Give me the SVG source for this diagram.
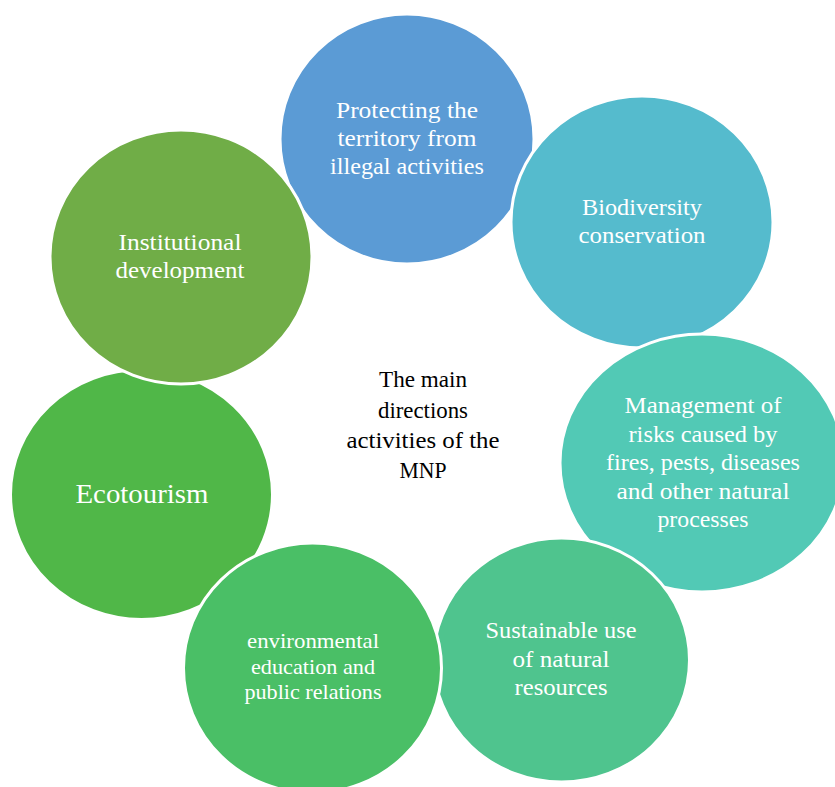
<svg xmlns="http://www.w3.org/2000/svg" width="835" height="787" viewBox="0 0 835 787">
<style>
.c{stroke:#ffffff;stroke-width:3}
.t{font-family:"Liberation Serif","DejaVu Serif",serif;fill:#ffffff;text-anchor:middle;font-size:23px}
.s{font-size:21px}
.m{font-family:"Liberation Serif","DejaVu Serif",serif;fill:#000000;text-anchor:middle;font-size:23px}
</style>
<rect width="835" height="787" fill="#ffffff"/>
<g id="connectors"/>
<g id="ecotourism">
<ellipse class="c" cx="141.5" cy="494.5" rx="131" ry="125" fill="#50B748"/>
<text class="t" x="142" y="503" style="font-size:28px" textLength="133" lengthAdjust="spacingAndGlyphs">Ecotourism</text>
</g>
<g id="protecting">
<ellipse class="c" cx="407" cy="139" rx="127" ry="125" fill="#5B9BD5"/>
<text class="t" x="407" y="118" textLength="142" lengthAdjust="spacingAndGlyphs">Protecting the</text>
<text class="t" x="407" y="146" textLength="139" lengthAdjust="spacingAndGlyphs">territory from</text>
<text class="t" x="407" y="174" textLength="154" lengthAdjust="spacingAndGlyphs">illegal activities</text>
</g>
<g id="biodiversity">
<ellipse class="c" cx="642" cy="222" rx="131" ry="126" fill="#55BBCD"/>
<text class="t" x="642" y="215" textLength="120" lengthAdjust="spacingAndGlyphs">Biodiversity</text>
<text class="t" x="642" y="243" textLength="127" lengthAdjust="spacingAndGlyphs">conservation</text>
</g>
<g id="management">
<ellipse class="c" cx="702" cy="463" rx="142" ry="129" fill="#52C9B5"/>
<text class="t" x="703" y="413" textLength="157" lengthAdjust="spacingAndGlyphs">Management of</text>
<text class="t" x="703" y="441.5" textLength="149" lengthAdjust="spacingAndGlyphs">risks caused by</text>
<text class="t" x="703" y="470" textLength="194" lengthAdjust="spacingAndGlyphs">fires, pests, diseases</text>
<text class="t" x="703" y="498.5" textLength="173" lengthAdjust="spacingAndGlyphs">and other natural</text>
<text class="t" x="703" y="527" textLength="91" lengthAdjust="spacingAndGlyphs">processes</text>
</g>
<g id="sustainable">
<ellipse class="c" cx="561.5" cy="660" rx="128" ry="122" fill="#4FC48E"/>
<text class="t" x="561" y="638" textLength="151" lengthAdjust="spacingAndGlyphs">Sustainable use</text>
<text class="t" x="561" y="666.5" textLength="97" lengthAdjust="spacingAndGlyphs">of natural</text>
<text class="t" x="561" y="695" textLength="93" lengthAdjust="spacingAndGlyphs">resources</text>
</g>
<g id="environmental">
<ellipse class="c" cx="312.5" cy="668" rx="129" ry="125" fill="#4ABF66"/>
<text class="t s" x="313" y="648" textLength="132" lengthAdjust="spacingAndGlyphs">environmental</text>
<text class="t s" x="313" y="673.5" textLength="124" lengthAdjust="spacingAndGlyphs">education and</text>
<text class="t s" x="313" y="699" textLength="137" lengthAdjust="spacingAndGlyphs">public relations</text>
</g>
<g id="institutional">
<ellipse class="c" cx="181" cy="257" rx="131" ry="127" fill="#70AD47"/>
<text class="t" x="180" y="250" textLength="123" lengthAdjust="spacingAndGlyphs">Institutional</text>
<text class="t" x="180" y="278" textLength="129" lengthAdjust="spacingAndGlyphs">development</text>
</g>
<g id="center">
<text class="m" x="423" y="387" textLength="88" lengthAdjust="spacingAndGlyphs">The main</text>
<text class="m" x="423" y="417.5" textLength="90" lengthAdjust="spacingAndGlyphs">directions</text>
<text class="m" x="423" y="448" textLength="153" lengthAdjust="spacingAndGlyphs">activities of the</text>
<text class="m" x="423" y="478" textLength="47" lengthAdjust="spacingAndGlyphs">MNP</text>
</g>
</svg>
